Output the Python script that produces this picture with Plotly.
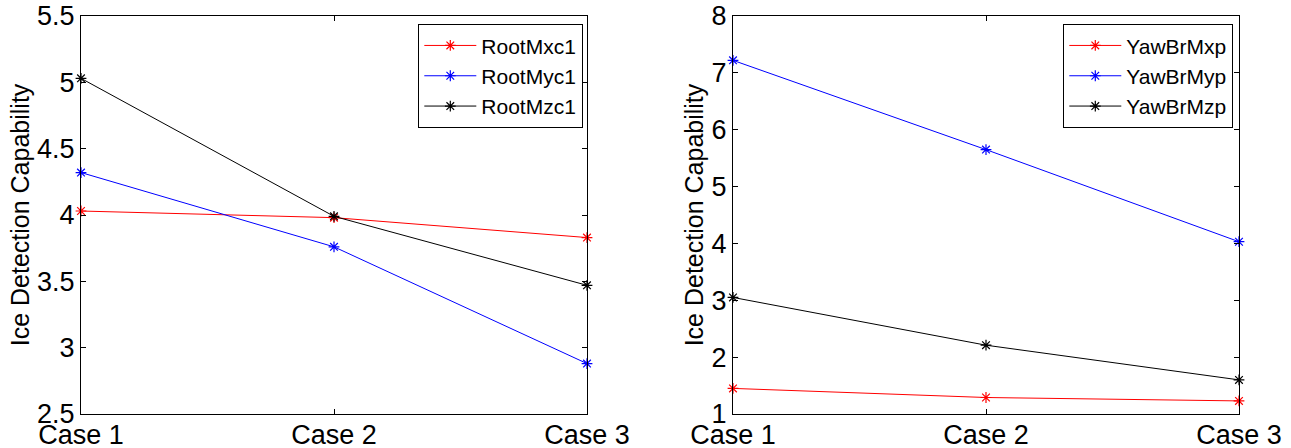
import plotly.graph_objects as go

cases = ["Case 1", "Case 2", "Case 3"]

root_mxc1 = [4.03, 3.98, 3.83]
root_myc1 = [4.32, 3.76, 2.88]
root_mzc1 = [5.03, 3.99, 3.47]

yaw_mxp = [1.45, 1.29, 1.23]
yaw_myp = [7.22, 5.65, 4.03]
yaw_mzp = [3.05, 2.21, 1.60]

left_ticks = [2.5, 3, 3.5, 4, 4.5, 5, 5.5]
left_ticktext = ["2.5", "3", "3.5", "4", "4.5", "5", "5.5"]
right_ticks = [1, 2, 3, 4, 5, 6, 7, 8]

W, H = 1291, 448
TICKFONT = dict(family="Liberation Sans, Arial", size=27, color="black")
LEGFONT = dict(family="Liberation Sans, Arial", size=21, color="black")
TITLEFONT = dict(family="Liberation Sans, Arial", size=25, color="black")

fig = go.Figure()

def add(x, y, name, color, xa, ya, leg):
    fig.add_trace(go.Scatter(
        x=x, y=y, name=name, mode="lines+markers",
        line=dict(color=color, width=1),
        marker=dict(symbol="asterisk-open", size=9, color=color, line=dict(color=color, width=1.2)),
        xaxis=xa, yaxis=ya, legend=leg, cliponaxis=False,
    ))

add(cases, root_mxc1, "RootMxc1", "red", "x", "y", "legend")
add(cases, root_myc1, "RootMyc1", "blue", "x", "y", "legend")
add(cases, root_mzc1, "RootMzc1", "black", "x", "y", "legend")
add(cases, yaw_mxp, "YawBrMxp", "red", "x2", "y2", "legend2")
add(cases, yaw_myp, "YawBrMyp", "blue", "x2", "y2", "legend2")
add(cases, yaw_mzp, "YawBrMzp", "black", "x2", "y2", "legend2")

ydom = [(H - 414) / H, (H - 16) / H]
axcommon = dict(showline=True, linecolor="black", linewidth=1.3, mirror="allticks",
                ticks="inside", ticklen=5, tickcolor="black", tickwidth=1,
                showgrid=False, zeroline=False, tickfont=TICKFONT, automargin=False)

fig.update_layout(
    width=W, height=H,
    margin=dict(l=0, r=0, t=0, b=0),
    paper_bgcolor="white", plot_bgcolor="white",
    xaxis=dict(domain=[81 / W, 587 / W], type="category", range=[0, 2], anchor="y",
               ticklabelstandoff=-4, **axcommon),
    yaxis=dict(domain=ydom, range=[2.5, 5.5], tickvals=left_ticks, ticktext=left_ticktext, anchor="x",
               title=dict(text="Ice Detection Capability", font=TITLEFONT, standoff=0),
               **axcommon),
    xaxis2=dict(domain=[733 / W, 1239 / W], type="category", range=[0, 2], anchor="y2",
                ticklabelstandoff=-4, **axcommon),
    yaxis2=dict(domain=ydom, range=[1, 8], tickvals=right_ticks, anchor="x2",
                title=dict(text="Ice Detection Capability", font=TITLEFONT, standoff=0),
                **axcommon),
    legend=dict(x=583 / W, y=(H - 24) / H, xanchor="right", yanchor="top", itemwidth=52,
                bgcolor="white", bordercolor="black", borderwidth=1.3, font=LEGFONT,
                tracegroupgap=0),
    legend2=dict(x=1233 / W, y=(H - 24) / H, xanchor="right", yanchor="top", itemwidth=52,
                 bgcolor="white", bordercolor="black", borderwidth=1.3, font=LEGFONT,
                 tracegroupgap=0),
    showlegend=True,
)

fig.write_html("out.html", config={"displayModeBar": False},
               post_script="document.body.style.margin='0';document.body.style.padding='0';")
